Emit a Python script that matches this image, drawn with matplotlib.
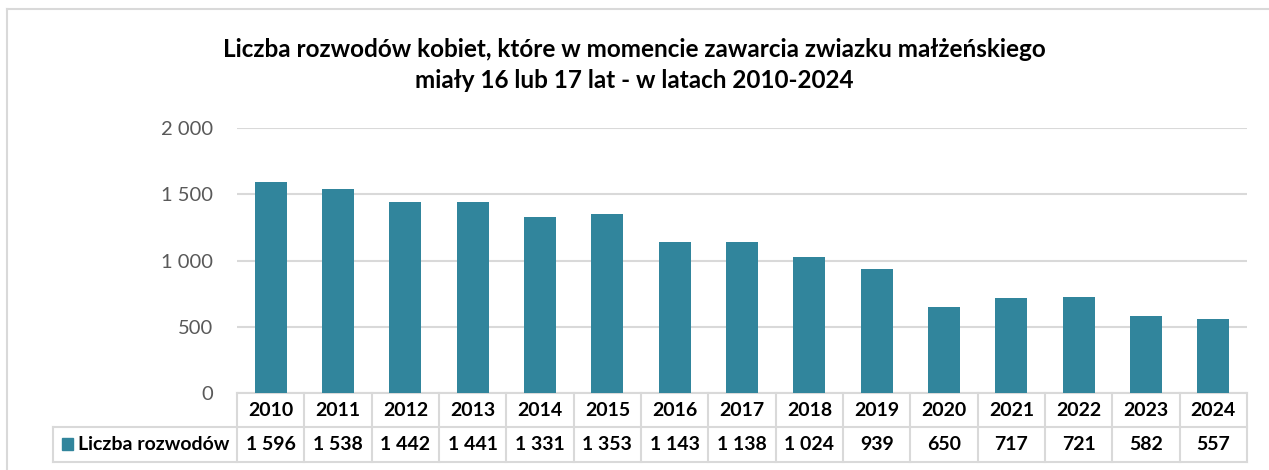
import matplotlib.pyplot as plt
from matplotlib.lines import Line2D
from matplotlib.patches import Rectangle
import matplotlib.ticker as mticker

plt.rcParams['font.family'] = ['Lato', 'DejaVu Sans']

# dane
years = ['2010', '2011', '2012', '2013', '2014', '2015', '2016', '2017',
         '2018', '2019', '2020', '2021', '2022', '2023', '2024']
rozwody = [1596, 1538, 1442, 1441, 1331, 1353, 1143, 1138,
           1024, 939, 650, 717, 721, 582, 557]
series_name = 'Liczba rozwodów'
title = ('Liczba rozwodów kobiet, które w momencie zawarcia zwiazku małżeńskiego\n'
         'miały 16 lub 17 lat - w latach 2010-2024')

bar_color = '#31859C'
grid_color = '#D9D9D9'

W, H = 1269, 470
fig = plt.figure(figsize=(W / 100, H / 100), dpi=100)

# ramka wykresu
fig.add_artist(Line2D([7 / W, 1], [1 - 9 / H, 1 - 9 / H], color=grid_color, lw=1.5))
fig.add_artist(Line2D([7 / W, 7 / W], [0, 1 - 9 / H], color=grid_color, lw=1.5))

left, right, top, bottom = 237, 1247, 128, 393
ax = fig.add_axes([left / W, 1 - bottom / H, (right - left) / W, (bottom - top) / H])

x = range(len(years))
ax.bar(x, rozwody, width=0.48, color=bar_color, zorder=3)
ax.set_xlim(-0.5, len(years) - 0.5)
ax.set_ylim(0, 2000)
ax.set_yticks([0, 500, 1000, 1500, 2000])
ax.yaxis.set_major_formatter(mticker.FuncFormatter(lambda v, p: f'{int(v):,}'.replace(',', ' ')))
ax.tick_params(axis='y', length=0, labelsize=14.5, labelcolor='#595959', pad=17)
ax.set_xticks([])
ax.grid(axis='y', color=grid_color, lw=1.5, zorder=0)
for s in ax.spines.values():
    s.set_visible(False)

# tabela danych pod wykresem
tr = ax.get_xaxis_transform()
ax_h = bottom - top
row1 = -34 / ax_h
row2 = -69 / ax_h
px_per_unit = (right - left) / len(years)
leg_left = -0.5 - (left - 53) / px_per_unit
xr = len(years) - 0.5
lk = dict(color=grid_color, lw=1.5, transform=tr, clip_on=False)
ax.add_line(Line2D([-0.5, xr], [0, 0], **lk))
ax.add_line(Line2D([leg_left, xr], [row1, row1], **lk))
ax.add_line(Line2D([leg_left, xr], [row2, row2], **lk))
ax.add_line(Line2D([leg_left, leg_left], [row1, row2], **lk))
for i in range(len(years) + 1):
    ax.add_line(Line2D([i - 0.5, i - 0.5], [0, row2], **lk))

for i, (yr, v) in enumerate(zip(years, rozwody)):
    ax.text(i, row1 / 2, yr, transform=tr, ha='center', va='center',
            fontsize=14, fontweight='bold', color='black')
    ax.text(i, (row1 + row2) / 2, f'{v:,}'.replace(',', ' '), transform=tr,
            ha='center', va='center', fontsize=14, fontweight='bold', color='black')

# legenda w tabeli
ax.add_patch(Rectangle((leg_left + 0.13, (row1 + row2) / 2 - 0.022), 0.16, 0.045,
                       transform=tr, color=bar_color, clip_on=False))
ax.text(leg_left + 0.37, (row1 + row2) / 2, series_name, transform=tr,
        ha='left', va='center', fontsize=14, fontweight='bold', color='black')

fig.text(0.5, 1 - 65 / H, title, ha='center', va='center', fontsize=17.5,
         fontweight='bold', linespacing=1.45)

fig.savefig('out.png', dpi=100)
